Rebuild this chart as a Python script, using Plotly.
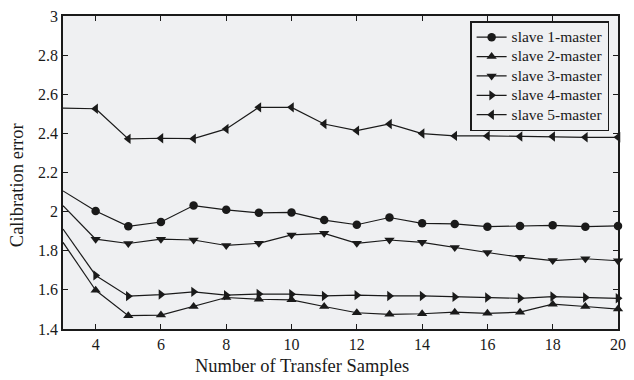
import plotly.graph_objects as go

x_lead = [3, 4]
x_vals = [4, 5, 6, 7, 8, 9, 10, 11, 12, 13, 14, 15, 16, 17, 18, 19, 20]

lead_s1 = [2.106, 2.003]
lead_s2 = [1.843, 1.598]
lead_s3 = [2.030, 1.859]
lead_s4 = [1.911, 1.674]
lead_s5 = [2.529, 2.526]

s1 = [2.003, 1.925, 1.947, 2.031, 2.009, 1.994, 1.996, 1.957, 1.933, 1.970, 1.940, 1.937, 1.923, 1.927, 1.930, 1.923, 1.927]
s2 = [1.598, 1.468, 1.471, 1.515, 1.561, 1.552, 1.549, 1.515, 1.483, 1.475, 1.478, 1.486, 1.480, 1.486, 1.527, 1.515, 1.502]
s3 = [1.859, 1.837, 1.859, 1.855, 1.827, 1.838, 1.881, 1.889, 1.838, 1.855, 1.843, 1.816, 1.791, 1.767, 1.750, 1.759, 1.749]
s4 = [1.674, 1.568, 1.576, 1.590, 1.573, 1.579, 1.578, 1.569, 1.573, 1.569, 1.569, 1.564, 1.561, 1.557, 1.566, 1.561, 1.557]
s5 = [2.526, 2.372, 2.375, 2.373, 2.423, 2.533, 2.533, 2.448, 2.414, 2.448, 2.399, 2.387, 2.387, 2.384, 2.384, 2.380, 2.380]

names = ["slave 1-master", "slave 2-master", "slave 3-master", "slave 4-master", "slave 5-master"]
symbols = ["circle", "triangle-up", "triangle-down", "triangle-right", "triangle-left"]
series = [s1, s2, s3, s4, s5]
leads = [lead_s1, lead_s2, lead_s3, lead_s4, lead_s5]

INK = "#1a1a1a"
fig = go.Figure()
for name, sym, ys, ld in zip(names, symbols, series, leads):
    fig.add_trace(go.Scatter(x=x_lead, y=ld, mode="lines", showlegend=False,
                             line=dict(color=INK, width=1.2), hoverinfo="skip"))
    fig.add_trace(go.Scatter(x=x_vals, y=ys, mode="lines+markers",
                             name='<span style="font-size:15.5px">' + name + '</span>',
                             line=dict(color=INK, width=1.2),
                             marker=dict(symbol=sym, size=9 if sym != "circle" else 8.5, color=INK),
                             cliponaxis=False))

font_family = "Liberation Serif, Times New Roman, serif"
fig.update_layout(
    width=634, height=380,
    margin=dict(l=63, r=8, t=14, b=51),
    paper_bgcolor="white",
    plot_bgcolor="#eff0f2",
    font=dict(family=font_family, size=16, color=INK),
    legend=dict(x=0.984, y=0.984, xanchor="right", yanchor="top",
                bgcolor="#eff0f2", bordercolor=INK, borderwidth=1.5, itemwidth=30,
                font=dict(family=font_family, size=12.6), tracegroupgap=0),
    showlegend=True,
    annotations=[
        dict(text="Number of Transfer Samples", xref="paper", yref="paper",
             x=0.43, y=-0.1197, xanchor="center", yanchor="middle", showarrow=False,
             font=dict(family=font_family, size=18.5, color=INK)),
        dict(text="Calibration error", xref="paper", yref="paper",
             x=-0.0826, y=0.46, xanchor="center", yanchor="middle", showarrow=False,
             textangle=-90, font=dict(family=font_family, size=18.5, color=INK)),
    ],
)
fig.update_xaxes(range=[3, 20], tickvals=[4, 6, 8, 10, 12, 14, 16, 18, 20],
                 ticks="inside", ticklen=5, tickcolor=INK, mirror="ticks",
                 showline=True, linecolor=INK, linewidth=1.5, showgrid=False, zeroline=False,
                 tickfont=dict(size=16))
fig.update_yaxes(range=[1.4, 3], tickvals=[1.4, 1.6, 1.8, 2, 2.2, 2.4, 2.6, 2.8, 3],
                 ticktext=["1.4", "1.6", "1.8", "2", "2.2", "2.4", "2.6", "2.8", "3"],
                 ticks="inside", ticklen=5, tickcolor=INK, mirror="ticks",
                 showline=True, linecolor=INK, linewidth=1.5, showgrid=False, zeroline=False,
                 tickfont=dict(size=16))

fig.write_html("out.html")
